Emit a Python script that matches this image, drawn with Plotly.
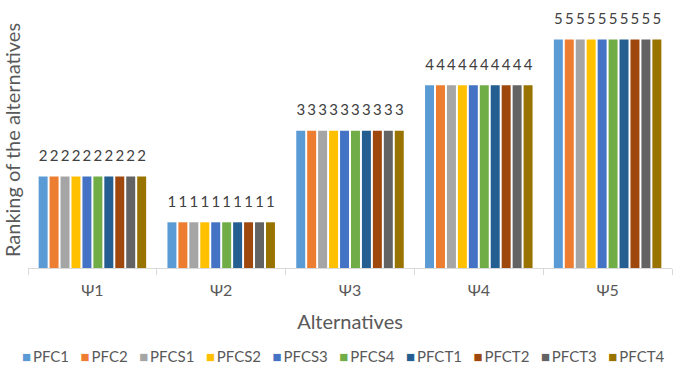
import plotly.graph_objects as go

categories = ["Ψ1", "Ψ2", "Ψ3", "Ψ4", "Ψ5"]
series_names = ["PFC1", "PFC2", "PFCS1", "PFCS2", "PFCS3", "PFCS4", "PFCT1", "PFCT2", "PFCT3", "PFCT4"]
rankings = [2, 1, 3, 4, 5]
series_values = {name: list(rankings) for name in series_names}
colors = ["#5B9BD5", "#ED7D31", "#A5A5A5", "#FFC000", "#4472C4",
          "#70AD47", "#255E91", "#9E480E", "#636363", "#997300"]

fig = go.Figure()
for name, col in zip(series_names, colors):
    vals = series_values[name]
    fig.add_trace(go.Bar(
        x=categories, y=vals, name=name,
        marker=dict(color=col, line=dict(width=0)),
        showlegend=False, offsetgroup=name,
    ))
# data labels, grouped like the bars, with an Excel-like gap above each bar
for name in series_names:
    vals = series_values[name]
    fig.add_trace(go.Scatter(
        x=categories, y=vals, mode="markers+text", name=name,
        marker=dict(size=17, color="rgba(0,0,0,0)"),
        text=[str(v) for v in vals], textposition="top center",
        textfont=dict(size=15, color="#404040"),
        showlegend=False, hoverinfo="skip", cliponaxis=False, offsetgroup=name,
    ))

# legend drawn as one rich-text annotation (compact Excel-style legend)
legend_text = "&nbsp;&nbsp;&nbsp;".join(
    f'<span style="color:{c}">■</span>&#8201;{n}' for n, c in zip(series_names, colors)
)
fig.add_annotation(
    text=legend_text, xref="paper", yref="paper", x=0.49, y=-0.345,
    xanchor="center", yanchor="middle", showarrow=False,
    font=dict(size=15, color="#595959"),
)

fig.update_layout(
    width=677, height=370,
    margin=dict(l=28, r=5, t=12, b=102),
    paper_bgcolor="white", plot_bgcolor="white",
    font=dict(family="Lato, Open Sans, sans-serif", color="#595959"),
    barmode="group", bargap=0.15, bargroupgap=0.18,
    scattermode="group", scattergap=0.15,
    showlegend=False,
)
fig.update_xaxes(
    showline=True, linecolor="#D9D9D9", linewidth=1,
    ticks="outside", tickson="boundaries", ticklen=6, tickcolor="#D9D9D9",
    tickfont=dict(size=16, color="#595959"), ticklabelstandoff=8,
    title=dict(text="Alternatives", font=dict(size=20, color="#595959"), standoff=16),
    showgrid=False,
)
fig.update_yaxes(
    range=[0, 5.6], showticklabels=False, showgrid=False, zeroline=False,
    showline=False, ticks="",
    title=dict(text="Ranking of the alternatives", font=dict(size=20, color="#595959"), standoff=2),
)

fig.write_html("out.html", config={"displayModeBar": False},
               post_script="document.body.style.margin='0';")
